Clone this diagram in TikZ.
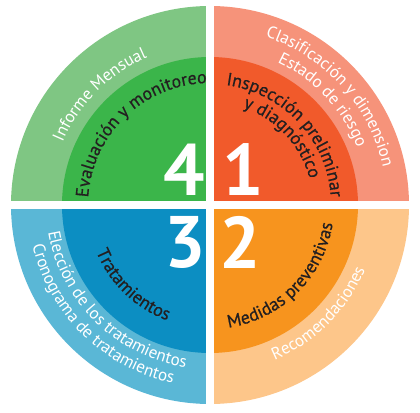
\documentclass[tikz,border=0pt]{standalone}
\usepackage{fontspec}
\setmainfont{PT Sans}
\newfontfamily\innerfont[FakeBold=0.6]{PT Sans}
\usetikzlibrary{decorations.text}
\definecolor{gOut}{HTML}{7FC683}
\definecolor{gIn}{HTML}{3BB54A}
\definecolor{rOut}{HTML}{F6937A}
\definecolor{rIn}{HTML}{F15A2B}
\definecolor{bOut}{HTML}{5AB7D6}
\definecolor{bIn}{HTML}{0C8EC2}
\definecolor{oOut}{HTML}{FDC68A}
\definecolor{oIn}{HTML}{F7941E}
\definecolor{ink}{HTML}{231F20}
\newcommand\wtxt{\color{white}\fontsize{17}{17}\selectfont}
\newcommand\btxt{\color{ink}\innerfont\fontsize{18}{18}\selectfont}
\tikzset{
  ringtext/.style={decorate, decoration={text along path, text align=center, text={#1}}},
  num/.style={text=white, inner sep=0pt, font=\fontsize{73}{73}\selectfont\bfseries}
}
\begin{document}
\begin{tikzpicture}[x=1pt,y=1pt]
\useasboundingbox (-210pt,-207pt) rectangle (210pt,205pt);
% outer sectors
\fill[gOut] (0pt,0pt) -- (90:199pt) arc[start angle=90,end angle=180,radius=199pt] -- cycle;
\fill[rOut] (0pt,0pt) -- (0:199pt) arc[start angle=0,end angle=90,radius=199pt] -- cycle;
\fill[bOut] (0pt,0pt) -- (180:199pt) arc[start angle=180,end angle=270,radius=199pt] -- cycle;
\fill[oOut] (0pt,0pt) -- (270:199pt) arc[start angle=270,end angle=360,radius=199pt] -- cycle;
% inner sectors
\fill[gIn] (0pt,0pt) -- (90:148pt) arc[start angle=90,end angle=180,radius=148pt] -- cycle;
\fill[rIn] (0pt,0pt) -- (0:148pt) arc[start angle=0,end angle=90,radius=148pt] -- cycle;
\fill[bIn] (0pt,0pt) -- (180:148pt) arc[start angle=180,end angle=270,radius=148pt] -- cycle;
\fill[oIn] (0pt,0pt) -- (270:148pt) arc[start angle=270,end angle=360,radius=148pt] -- cycle;
% white cross
\fill[white] (-4pt,-202pt) rectangle (4pt,202pt);
\fill[white] (-202pt,-4pt) rectangle (202pt,4pt);
% quadrant 4
\path[ringtext={|\wtxt|Informe Mensual}] (178:160pt) arc[start angle=178,end angle=92,radius=160pt];
\path[ringtext={|\btxt|Evaluación y monitoreo}] (179:122pt) arc[start angle=179,end angle=89,radius=122pt];
% quadrant 1
\path[ringtext={|\wtxt|Clasificación y dimension}] (88:177pt) arc[start angle=88,end angle=-4,radius=177pt];
\path[ringtext={|\wtxt|Estado de riesgo}] (88:158pt) arc[start angle=88,end angle=-2,radius=158pt];
\path[ringtext={|\btxt|Inspección preliminar}] (88:121pt) arc[start angle=88,end angle=-2,radius=121pt];
\path[ringtext={|\btxt|y diagnóstico}] (88:103pt) arc[start angle=88,end angle=-2,radius=103pt];
% quadrant 3
\path[ringtext={|\wtxt|Elección de los tratamientos}] (180:164pt) arc[start angle=180,end angle=271,radius=164pt];
\path[ringtext={|\wtxt|Cronograma de tratamientos}] (180:182pt) arc[start angle=180,end angle=271,radius=182pt];
\path[ringtext={|\btxt|Tratamientos}] (181:123pt) arc[start angle=181,end angle=271,radius=123pt];
% quadrant 2
\path[ringtext={|\btxt|Medidas preventivas}] (270:124pt) arc[start angle=270,end angle=360,radius=124pt];
\path[ringtext={|\wtxt|Recomendaciones}] (270:168pt) arc[start angle=270,end angle=360,radius=168pt];
% numbers
\node[num] (n4) at (-26pt,35.5pt) {4};
\node[num] (n1) at (33pt,35pt) {1};
\node[num] (n3) at (-25pt,-37pt) {3};
\node[num] (n2) at (30pt,-37pt) {2};
\end{tikzpicture}
\end{document}
